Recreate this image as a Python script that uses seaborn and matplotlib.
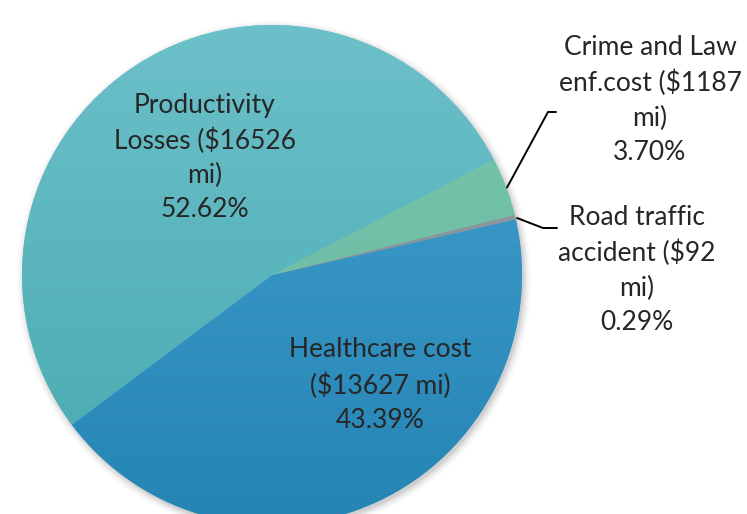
import numpy as np
import seaborn as sns
import matplotlib.pyplot as plt
from matplotlib.colors import LinearSegmentedColormap

# data (counter-clockwise order starting at lower-left)
categories = ['Healthcare cost', 'Road traffic accident', 'Crime and Law enf.cost', 'Productivity Losses']
costs_mi = [13627, 92, 1187, 16526]
percents = [43.39, 0.29, 3.70, 52.62]
label_texts = ['Healthcare cost\n($13627 mi)\n43.39%',
               'Road traffic\naccident ($92\nmi)\n0.29%',
               'Crime and Law\nenf.cost ($1187\nmi)\n3.70%',
               'Productivity\nLosses ($16526\nmi)\n52.62%']

# top/bottom colours of the vertical gradient of each slice
top_colors = ['#44a2cf', '#8f9ba0', '#78c6ad', '#6cc0c9']
bottom_colors = ['#2484b4', '#838f94', '#64b89e', '#47a9b0']

sns.set_theme(style='white')
plt.rcParams['font.family'] = ['Lato', 'DejaVu Sans']

fig = plt.figure(figsize=(7.47, 5.14), dpi=100)
ax = fig.add_axes([0, 0, 1, 1])

# soft shadow
for i, a in enumerate(np.linspace(0.05, 0.012, 6)):
    ax.add_patch(plt.Circle((0.008, -0.012), 1.0 + 0.006 * i, color='black', alpha=a, lw=0, zorder=0))

start = 13.0 - percents[0] * 3.6
wedges, _ = ax.pie(costs_mi, startangle=start, counterclock=True, radius=1.0,
                   colors=top_colors, wedgeprops=dict(linewidth=0), center=(0, 0), frame=True)
ax.set_xlim(-1.088, 1.9)
ax.set_ylim(-0.956, 1.1)
ax.set_aspect('equal')
ax.axis('off')

grad = np.linspace(0, 1, 256).reshape(-1, 1)
for w, c1, c2 in zip(wedges, top_colors, bottom_colors):
    cmap = LinearSegmentedColormap.from_list('g', [c2, c1])
    im = ax.imshow(grad, cmap=cmap, extent=(-1, 1, -1, 1), origin='lower', aspect='auto', zorder=2)
    im.set_clip_path(w)

fs = 19
ax.text(-0.268, 0.47, label_texts[3], ha='center', va='center', fontsize=fs, linespacing=1.45, zorder=5)
ax.text(0.432, -0.44, label_texts[0], ha='center', va='center', fontsize=fs, linespacing=1.45, zorder=5)
ax.text(1.512, 0.70, label_texts[2], ha='center', va='center', fontsize=fs, linespacing=1.45, zorder=5)
ax.text(1.46, 0.02, label_texts[1], ha='center', va='center', fontsize=fs, linespacing=1.45, zorder=5)

# leader lines
ax.plot([0.94, 1.104, 1.136], [0.35, 0.652, 0.652], color='black', lw=1.4, zorder=5)
ax.plot([0.98, 1.084, 1.14], [0.228, 0.188, 0.188], color='black', lw=1.4, zorder=5)

fig.savefig('out.png', dpi=100)
